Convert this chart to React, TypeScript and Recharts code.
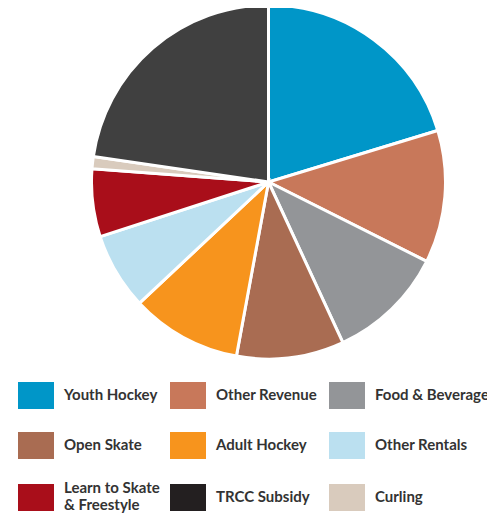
import React from "react";
import { PieChart, Pie, Cell } from "recharts";

const categories = [
  "Youth Hockey",
  "Other Revenue",
  "Food & Beverage",
  "Open Skate",
  "Adult Hockey",
  "Other Rentals",
  "Learn to Skate & Freestyle",
  "Curling",
  "TRCC Subsidy",
];
const values = [20.3, 12.1, 10.7, 9.8, 10.1, 7.0, 6.2, 1.1, 22.7];
const sliceColors = ["#0096c8", "#c8785a", "#939598", "#a96c52", "#f7941d", "#bbe0f0", "#a90e1a", "#d9cbbd", "#404040"];

const legendOrder = [
  "Youth Hockey",
  "Other Revenue",
  "Food & Beverage",
  "Open Skate",
  "Adult Hockey",
  "Other Rentals",
  "Learn to Skate & Freestyle",
  "TRCC Subsidy",
  "Curling",
];
const legendLines: Record<string, string[]> = {
  "Learn to Skate & Freestyle": ["Learn to Skate", "& Freestyle"],
};
const legendSwatch: Record<string, string> = { "TRCC Subsidy": "#231f20" };

const data = categories.map((name, i) => ({ name, value: values[i] }));

const colX = [10, 162, 321];
const rowY = [374, 424, 476];

export default function App() {
  return (
    <div style={{ position: "relative", width: 487, height: 507, fontFamily: "Lato, 'Open Sans', sans-serif" }}>
      <PieChart width={487} height={370} margin={{ top: 0, right: 0, bottom: 0, left: 0 }} style={{ position: "absolute", left: 0, top: 0 }}>
        <Pie
          data={data}
          dataKey="value"
          nameKey="name"
          cx={260.5}
          cy={174}
          outerRadius={177}
          startAngle={90}
          endAngle={-270}
          stroke="#ffffff"
          strokeWidth={3}
          isAnimationActive={false}
          label={false}
          labelLine={false}
        >
          {data.map((d, i) => (
            <Cell key={d.name} fill={sliceColors[i]} />
          ))}
        </Pie>
      </PieChart>
      {legendOrder.map((name, k) => {
        const col = k % 3;
        const row = Math.floor(k / 3);
        const idx = categories.indexOf(name);
        const lines = legendLines[name] || [name];
        return (
          <div key={name}>
            <div
              style={{
                position: "absolute",
                left: colX[col],
                top: rowY[row],
                width: 36,
                height: 27,
                background: legendSwatch[name] || sliceColors[idx],
              }}
            />
            <div
              style={{
                position: "absolute",
                left: colX[col] + 46,
                top: rowY[row] + 12 - (lines.length * 17) / 2,
                fontSize: 15,
                lineHeight: "17px",
                fontWeight: 700,
                color: "#333333",
                whiteSpace: "nowrap",
              }}
            >
              {lines.map((l) => (
                <div key={l}>{l}</div>
              ))}
            </div>
          </div>
        );
      })}
    </div>
  );
}
